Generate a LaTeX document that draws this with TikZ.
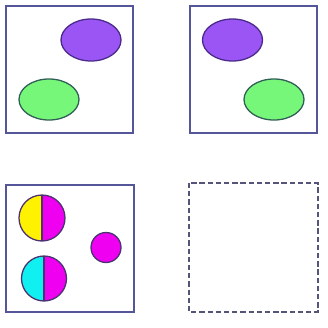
\documentclass[tikz,border=0pt]{standalone}
\definecolor{PanelEdge}{HTML}{55559A}
\definecolor{BlobPurple}{HTML}{9B55F5}
\definecolor{BlobPurpleEdge}{HTML}{4A2A8A}
\definecolor{BlobGreen}{HTML}{77F77A}
\definecolor{BlobGreenEdge}{HTML}{2F5F55}
\definecolor{DiscMagenta}{HTML}{F000F0}
\definecolor{DiscYellow}{HTML}{FFF200}
\definecolor{DiscCyan}{HTML}{10F0F0}
\definecolor{DiscEdge}{HTML}{4A3370}
\definecolor{EmptyEdge}{HTML}{55557A}
\usetikzlibrary{calc}
\tikzset{
  panel/.style={draw=PanelEdge, line width=1.4pt},
  emptypanel/.style={draw=EmptyEdge, line width=1.4pt, dash pattern=on 4.5pt off 2.5pt},
  purpleblob/.style={fill=BlobPurple, draw=BlobPurpleEdge, line width=1.1pt},
  greenblob/.style={fill=BlobGreen, draw=BlobGreenEdge, line width=1.1pt},
  discline/.style={draw=DiscEdge, line width=1.1pt}
}
\begin{document}
\begin{tikzpicture}[x=0.03cm, y=-0.03cm]
  \useasboundingbox (0,0) rectangle (328,328);
  % Panel 1: purple upper right, green lower left
  \draw[panel] (6,6) rectangle (133,133);
  \filldraw[purpleblob] (91,40) ellipse (30 and 21);
  \filldraw[greenblob] (49,99.5) ellipse (30 and 20.5);
  % Panel 2: purple upper left, green lower right
  \draw[panel] (190,6) rectangle (317,133);
  \filldraw[purpleblob] (232.5,40) ellipse (30 and 21);
  \filldraw[greenblob] (274,99.5) ellipse (30 and 20.5);
  % Panel 3: split discs and a small disc
  \draw[panel] (6,185) rectangle (134,312);
  % Yellow / magenta disc (y axis points down, so the top is at 270)
  \fill[DiscYellow] (42,195) arc (270:90:23) -- cycle;
  \fill[DiscMagenta] (42,195) arc (270:450:23) -- cycle;
  \draw[discline] (42,218) circle (23);
  \draw[discline] (42,195) -- (42,241);
  % Cyan / magenta disc
  \fill[DiscCyan] (44,256) arc (270:90:22.5) -- cycle;
  \fill[DiscMagenta] (44,256) arc (270:450:22.5) -- cycle;
  \draw[discline] (44,278.5) circle (22.5);
  \draw[discline] (44,256) -- (44,301);
  % Small magenta disc
  \filldraw[DiscMagenta, discline] (106,247.5) circle (15);
  % Panel 4: empty, dashed
  \draw[emptypanel] (189,183) rectangle (318,312);
\end{tikzpicture}
\end{document}
